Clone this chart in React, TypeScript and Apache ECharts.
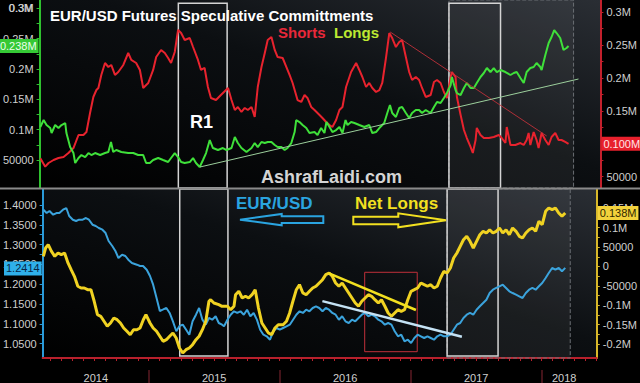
import React, { useEffect, useRef } from 'react';
import * as echarts from 'echarts';

// x = decimal year, values in thousands of contracts (COT) or EUR/USD price
const shorts: [number, number][] = [
[2014.196,78],[2014.233,65.2],[2014.258,70.8],[2014.296,75.4],[2014.333,78.4],[2014.371,80],[2014.408,86],[2014.446,93.6],[2014.484,113.4],[2014.521,113.4],[2014.544,118],[2014.571,146.9],[2014.596,171.2],[2014.619,181.8],[2014.634,184.9],[2014.656,204.7],[2014.684,222.9],[2014.709,216.8],[2014.731,219.9],[2014.759,204.7],[2014.784,209.2],[2014.822,219.9],[2014.859,238.1],[2014.882,227.5],[2014.919,222.9],[2014.947,212.3],[2014.972,184.9],[2015.010,192.5],[2015.047,212.3],[2015.070,232],[2015.107,242.7],[2015.135,238.1],[2015.160,230.5],[2015.182,222.9],[2015.210,239.6],[2015.235,273.1],[2015.258,268.5],[2015.285,257.9],[2015.323,260.9],[2015.348,247.2],[2015.385,227.5],[2015.408,212.3],[2015.435,215.3],[2015.460,186.4],[2015.483,169.7],[2015.521,166.6],[2015.558,174.2],[2015.612,184.9],[2015.638,166.6],[2015.663,151.4],[2015.686,156],[2015.713,148.4],[2015.738,154.5],[2015.761,151.4],[2015.789,156],[2015.813,140.8],[2015.836,186.4],[2015.864,216.8],[2015.889,238.1],[2015.911,257.9],[2015.939,262.4],[2015.964,242.7],[2015.986,232],[2016.024,230.5],[2016.052,216.8],[2016.076,204.7],[2016.099,192.5],[2016.136,166.6],[2016.164,163.6],[2016.189,174.2],[2016.211,169.7],[2016.239,156],[2016.264,151.4],[2016.302,143.8],[2016.324,139.3],[2016.352,133.2],[2016.377,128.6],[2016.399,125.6],[2016.427,136.2],[2016.452,151.4],[2016.475,156],[2016.502,186.4],[2016.540,209.2],[2016.578,222.9],[2016.602,212.3],[2016.625,201.6],[2016.653,186.4],[2016.677,192.5],[2016.700,184.9],[2016.728,178.8],[2016.753,181.8],[2016.775,192.5],[2016.803,230.5],[2016.828,268.5],[2016.850,260.9],[2016.878,247.2],[2016.903,254.8],[2016.925,257.9],[2016.953,232],[2016.978,209.2],[2017.000,197],[2017.028,201.6],[2017.053,197],[2017.075,184.9],[2017.103,171.2],[2017.140,174.2],[2017.165,194],[2017.188,197],[2017.215,192.5],[2017.240,178.8],[2017.263,169.7],[2017.291,201.6],[2017.300,209.2],[2017.328,201.6],[2017.338,171.2],[2017.366,143.8],[2017.391,121],[2017.413,108.8],[2017.441,95.2],[2017.458,86],[2017.479,105.8],[2017.488,124.1],[2017.516,113.4],[2017.541,108.8],[2017.579,108.8],[2017.616,110.4],[2017.654,113.4],[2017.676,108.8],[2017.704,101.2],[2017.714,125.6],[2017.742,98.2],[2017.779,98.2],[2017.817,101.2],[2017.842,98.2],[2017.864,105.8],[2017.879,116.5],[2017.892,98.2],[2017.917,118],[2017.939,105.8],[2017.954,93.6],[2017.977,116.5],[2018.005,105.8],[2018.030,98.2],[2018.052,110.4],[2018.080,116.5],[2018.105,105.8],[2018.127,105.8],[2018.155,102.8],[2018.180,100]
];

const longs: [number, number][] = [
[2014.196,104.4],[2014.221,115.9],[2014.243,107.7],[2014.271,102.7],[2014.281,94.5],[2014.308,107.7],[2014.333,102.7],[2014.356,107.7],[2014.384,111],[2014.393,94.5],[2014.421,71.4],[2014.446,61.5],[2014.459,45.1],[2014.484,53.3],[2014.506,58.2],[2014.534,54.9],[2014.559,61.5],[2014.581,58.2],[2014.609,61.5],[2014.647,58.2],[2014.684,61.5],[2014.709,63.2],[2014.729,79.7],[2014.746,63.2],[2014.769,66.5],[2014.807,63.2],[2014.859,61.5],[2014.897,61.5],[2014.934,58.2],[2014.972,58.2],[2014.994,45.1],[2015.022,45.1],[2015.047,50],[2015.085,53.3],[2015.122,50],[2015.160,46.7],[2015.182,53.3],[2015.210,61.5],[2015.235,54.9],[2015.258,46.7],[2015.285,45.1],[2015.323,46.7],[2015.348,53.3],[2015.370,45.1],[2015.398,38.5],[2015.423,50],[2015.446,61.5],[2015.474,83],[2015.498,69.8],[2015.536,66.5],[2015.573,69.8],[2015.601,66.5],[2015.638,69.8],[2015.663,87.9],[2015.686,78],[2015.713,69.8],[2015.751,63.2],[2015.789,69.8],[2015.813,78],[2015.836,71.4],[2015.864,79.7],[2015.889,78],[2015.911,79.7],[2015.939,79.7],[2015.964,74.7],[2015.986,71.4],[2016.014,71.4],[2016.039,66.5],[2016.061,69.8],[2016.089,78],[2016.114,96.1],[2016.126,115.9],[2016.151,112.6],[2016.174,107.7],[2016.202,102.7],[2016.226,94.5],[2016.264,96.1],[2016.287,91.2],[2016.314,102.7],[2016.339,94.5],[2016.354,112.6],[2016.377,104.4],[2016.399,96.1],[2016.427,99.4],[2016.452,104.4],[2016.475,94.5],[2016.498,115.9],[2016.513,107.7],[2016.540,112.6],[2016.565,111],[2016.602,107.7],[2016.640,104.4],[2016.677,107.7],[2016.700,94.5],[2016.728,96.1],[2016.753,102.7],[2016.790,111],[2016.813,127.5],[2016.833,140.6],[2016.850,127.5],[2016.878,120.9],[2016.903,135.7],[2016.925,137.3],[2016.953,127.5],[2016.978,119.2],[2017.000,127.5],[2017.028,132.4],[2017.053,132.4],[2017.075,127.5],[2017.103,132.4],[2017.140,127.5],[2017.165,137.3],[2017.188,145.6],[2017.215,143.9],[2017.240,152.2],[2017.263,160.4],[2017.291,173.6],[2017.300,186.8],[2017.328,165.4],[2017.338,160.4],[2017.366,157.1],[2017.391,168.7],[2017.413,176.9],[2017.441,168.7],[2017.466,168.7],[2017.488,176.9],[2017.516,186.8],[2017.541,193.4],[2017.564,201.6],[2017.591,195],[2017.616,201.6],[2017.639,195],[2017.667,198.3],[2017.704,195],[2017.742,190.1],[2017.767,193.4],[2017.789,195],[2017.817,185.1],[2017.842,176.9],[2017.864,195],[2017.892,201.6],[2017.917,203.3],[2017.939,209.9],[2017.967,203.3],[2017.977,198.3],[2018.005,223],[2018.030,242.8],[2018.052,252.7],[2018.072,264.2],[2018.090,259.3],[2018.117,251.1],[2018.142,231.3],[2018.165,234.6],[2018.180,238]
];

const eurusd: [number, number][] = [
[2014.196,1.3881],[2014.221,1.3798],[2014.243,1.3849],[2014.271,1.3755],[2014.296,1.3798],[2014.318,1.3798],[2014.346,1.3881],[2014.371,1.3924],[2014.393,1.3722],[2014.421,1.3629],[2014.446,1.3596],[2014.468,1.3629],[2014.496,1.3629],[2014.521,1.3672],[2014.544,1.3629],[2014.571,1.3503],[2014.596,1.347],[2014.619,1.342],[2014.647,1.3377],[2014.671,1.3293],[2014.694,1.3092],[2014.722,1.2965],[2014.746,1.2839],[2014.769,1.2663],[2014.797,1.2746],[2014.822,1.2713],[2014.844,1.262],[2014.872,1.2536],[2014.910,1.2494],[2014.934,1.2461],[2014.957,1.2461],[2014.985,1.2367],[2015.010,1.2208],[2015.034,1.1989],[2015.060,1.1653],[2015.085,1.1325],[2015.107,1.1358],[2015.135,1.1401],[2015.160,1.1275],[2015.185,1.1065],[2015.211,1.0813],[2015.235,1.0947],[2015.260,1.098],[2015.286,1.0853],[2015.310,1.0727],[2015.335,1.1065],[2015.361,1.1232],[2015.385,1.1401],[2015.410,1.1106],[2015.436,1.098],[2015.460,1.1149],[2015.485,1.1106],[2015.511,1.1192],[2015.535,1.1022],[2015.560,1.098],[2015.575,1.0939],[2015.601,1.1106],[2015.626,1.1232],[2015.651,1.1318],[2015.676,1.1275],[2015.701,1.1318],[2015.726,1.1232],[2015.751,1.1358],[2015.776,1.1192],[2015.801,1.1275],[2015.826,1.1106],[2015.851,1.0853],[2015.876,1.0727],[2015.901,1.0687],[2015.926,1.0601],[2015.951,1.0813],[2015.976,1.0896],[2016.001,1.0853],[2016.026,1.0896],[2016.052,1.0939],[2016.077,1.098],[2016.102,1.1106],[2016.127,1.1232],[2016.152,1.1318],[2016.177,1.1275],[2016.202,1.1358],[2016.227,1.1318],[2016.252,1.1401],[2016.277,1.1444],[2016.302,1.1401],[2016.327,1.1318],[2016.352,1.1401],[2016.377,1.1358],[2016.402,1.1275],[2016.427,1.1232],[2016.452,1.1106],[2016.477,1.1192],[2016.502,1.1065],[2016.527,1.1022],[2016.552,1.1106],[2016.577,1.1065],[2016.602,1.1149],[2016.627,1.1232],[2016.652,1.1275],[2016.677,1.1192],[2016.702,1.1232],[2016.727,1.1192],[2016.753,1.1106],[2016.777,1.1065],[2016.803,1.098],[2016.828,1.1022],[2016.853,1.098],[2016.878,1.0813],[2016.903,1.0687],[2016.928,1.0727],[2016.953,1.0561],[2016.978,1.0601],[2017.003,1.0518],[2017.028,1.0644],[2017.053,1.0727],[2017.078,1.0687],[2017.103,1.0644],[2017.128,1.0687],[2017.153,1.0644],[2017.178,1.0601],[2017.203,1.0687],[2017.228,1.0727],[2017.253,1.0687],[2017.278,1.0687],[2017.303,1.0727],[2017.328,1.0853],[2017.353,1.098],[2017.378,1.1022],[2017.403,1.1149],[2017.428,1.1232],[2017.453,1.1275],[2017.478,1.1232],[2017.503,1.1358],[2017.528,1.1444],[2017.553,1.1527],[2017.578,1.161],[2017.603,1.1779],[2017.628,1.1863],[2017.653,1.1906],[2017.678,1.1949],[2017.703,1.1989],[2017.728,1.1906],[2017.753,1.1822],[2017.778,1.1779],[2017.804,1.1737],[2017.829,1.1696],[2017.854,1.1653],[2017.879,1.1779],[2017.904,1.1863],[2017.929,1.1906],[2017.954,1.1863],[2017.979,1.1949],[2018.004,1.2032],[2018.030,1.2158],[2018.054,1.2284],[2018.080,1.241],[2018.105,1.2367],[2018.130,1.241],[2018.155,1.2327],[2018.180,1.2414]
];

const netLongs: [number, number][] = [
[2014.196,26.2],[2014.213,47.6],[2014.233,56.2],[2014.258,39.1],[2014.283,26.2],[2014.308,34.7],[2014.333,30.4],[2014.358,34.7],[2014.384,9],[2014.408,-8.3],[2014.433,-25.4],[2014.459,-51.1],[2014.484,-55.5],[2014.508,-55.5],[2014.534,-59.9],[2014.559,-59.9],[2014.584,-89.8],[2014.609,-124.4],[2014.634,-128.5],[2014.659,-141.4],[2014.684,-154.3],[2014.709,-145.8],[2014.734,-132.9],[2014.759,-137.3],[2014.784,-145.8],[2014.809,-158.7],[2014.834,-167.2],[2014.859,-176],[2014.884,-163.1],[2014.910,-163.1],[2014.934,-158.7],[2014.959,-137.3],[2014.979,-124.4],[2015.010,-145.8],[2015.034,-158.7],[2015.060,-167.2],[2015.085,-180.1],[2015.110,-193],[2015.135,-188.9],[2015.160,-180.1],[2015.185,-171.6],[2015.210,-184.5],[2015.235,-210.3],[2015.260,-223.2],[2015.285,-214.7],[2015.310,-210.3],[2015.335,-201.8],[2015.361,-188.9],[2015.385,-180.1],[2015.410,-163.1],[2015.436,-141.4],[2015.460,-89.8],[2015.473,-85.7],[2015.498,-94.2],[2015.535,-98.6],[2015.560,-102.7],[2015.601,-102.7],[2015.626,-111.5],[2015.651,-102.7],[2015.663,-72.8],[2015.688,-64],[2015.714,-81.3],[2015.739,-76.9],[2015.763,-81.3],[2015.789,-72.8],[2015.813,-59.9],[2015.838,-107.1],[2015.864,-145.8],[2015.889,-158.7],[2015.914,-171.6],[2015.939,-176],[2015.964,-158.7],[2015.989,-150.2],[2016.026,-150.2],[2016.052,-141.4],[2016.076,-120],[2016.101,-89.8],[2016.127,-59.9],[2016.151,-47],[2016.177,-68.4],[2016.202,-72.8],[2016.227,-64],[2016.252,-55.5],[2016.277,-51.1],[2016.302,-42.6],[2016.327,-34.1],[2016.352,-21.2],[2016.377,-16.8],[2016.402,-25.4],[2016.427,-42.6],[2016.452,-51.1],[2016.477,-42.6],[2016.502,-55.5],[2016.527,-68.4],[2016.552,-81.3],[2016.577,-94.2],[2016.602,-102.7],[2016.627,-89.8],[2016.652,-81.3],[2016.677,-72.8],[2016.702,-76.9],[2016.727,-85.7],[2016.753,-94.2],[2016.777,-85.7],[2016.803,-102.7],[2016.828,-120],[2016.853,-128.5],[2016.878,-120],[2016.903,-111.5],[2016.928,-115.6],[2016.953,-111.5],[2016.978,-85.7],[2017.003,-64],[2017.028,-59.9],[2017.053,-55.5],[2017.078,-42.6],[2017.103,-47],[2017.128,-51.1],[2017.153,-47],[2017.178,-55.5],[2017.203,-51.1],[2017.228,-29.7],[2017.253,-12.5],[2017.278,-16.8],[2017.303,-3.9],[2017.328,21.8],[2017.353,34.7],[2017.378,52],[2017.403,69],[2017.428,77.8],[2017.453,64.9],[2017.478,47.6],[2017.503,64.9],[2017.528,81.9],[2017.553,90.7],[2017.578,86.3],[2017.603,94.8],[2017.628,86.3],[2017.653,90.7],[2017.678,99.2],[2017.703,86.3],[2017.728,94.8],[2017.753,81.9],[2017.778,99.2],[2017.804,90.7],[2017.829,77.8],[2017.854,73.4],[2017.879,86.3],[2017.904,94.8],[2017.929,99.2],[2017.954,90.7],[2017.979,116.5],[2018.004,107.7],[2018.030,142.3],[2018.054,150.8],[2018.080,146.4],[2018.105,150.8],[2018.130,137.9],[2018.155,129.4],[2018.180,138]
];

const yearLabelPos = [2014.596, 2015.5, 2016.5, 2017.5, 2018.172];
const yearBreaks = [2015, 2016, 2017, 2018];
const cotTicks = [50, 100, 150, 200, 250, 300];
const netTicks = [-200, -150, -100, -50, 0, 50, 100, 150];
const fxTicks = [1.05, 1.1, 1.15, 1.2, 1.25, 1.3, 1.35, 1.4];

// annotation boxes (decimal-year ranges)
const r1Box = [2015.237, 2015.605];
const box2017 = [2017.278, 2017.667];
const shadeRange = [2017.278, 2018.218];
const redBox = { x: [2016.649, 2017.05], y: [1.2302, 1.0298] };
const longsTrend = [[2015.4, 38.5], [2018.255, 183.5]];
const shortsTrend = [[2016.835, 270.0], [2018.015, 111.9]];
const netTrend = [[2016.377, -17.6], [2017.04, -112.3]];
const fxTrend = [[2016.326, 1.1575], [2017.391, 1.0677]];

const X_MIN = 2014.1905;
const X_MAX = 2018.4204;
const LONGS_MIN = 3.9;
const LONGS_MAX = 313.7;
const TOP_H = 188;
const FONT = 'Liberation Sans, Arial, sans-serif';
const LABEL_COLOR = '#cfcfcf';

const fmtK = (v: number) =>
  Math.abs(v) >= 100 ? `${+(v / 1000).toFixed(3)}M` : `${Math.round(v * 1000)}`;
const last = (a: [number, number][]) => a[a.length - 1][1];

export default function App() {
  const ref = useRef<HTMLDivElement>(null);
  useEffect(() => {
    document.body.style.margin = '0';
    document.body.style.background = '#000';
    const chart = echarts.init(ref.current!, undefined, { renderer: 'svg', width: 640, height: 383 });

    const months: number[] = [];
    for (let m = 3; m <= 4 * 12 + 5; m++) months.push(2014 + m / 12);

    const bg = {
      type: 'linear', x: 0, y: 1, x2: 1, y2: 0,
      colorStops: [
        { offset: 0, color: '#000000' },
        { offset: 0.55, color: '#0c0f12' },
        { offset: 1, color: '#2a2e34' },
      ],
    };
    const axisLabel = (vals: number[], fmt: (v: number) => string, margin: number) => ({
      customValues: vals, formatter: fmt, color: LABEL_COLOR, fontSize: 11, fontFamily: FONT, margin,
      showMaxLabel: true, showMinLabel: true,
    });
    const minorTicks = (vals: number[]) => {
      const out: number[] = [];
      for (let i = 0; i < vals.length; i++) {
        out.push(vals[i]);
        if (i < vals.length - 1) out.push((vals[i] + vals[i + 1]) / 2);
      }
      return out;
    };
    const tag = (value: number, text: string, pos: string, bgc: string, fg: string) => ({
      yAxis: value,
      lineStyle: { color: 'rgba(0,0,0,0)', width: 0 },
      label: {
        show: true, position: pos, formatter: text, backgroundColor: bgc, color: fg,
        fontSize: 11, fontFamily: FONT, padding: [2, 2, 1, 2], distance: 1,
      },
    });
    const trend = (pts: number[][], color: string, width: number) => [
      { coord: pts[0], lineStyle: { color, width, type: 'solid' }, label: { show: false } },
      { coord: pts[1] },
    ];
    const whiteBox = (xr: number[], y1: number, y2: number) => [
      { xAxis: xr[0], yAxis: y1, itemStyle: { color: 'rgba(0,0,0,0)', borderColor: '#d4d4d4', borderWidth: 1.5 } },
      { xAxis: xr[1], yAxis: y2 },
    ];
    const shade = [
      { xAxis: shadeRange[0], itemStyle: { color: 'rgba(255,255,255,0.06)', borderColor: '#6a6e74', borderWidth: 1, borderType: 'dashed' } },
      { xAxis: shadeRange[1] },
    ];
    const topCot = cotTicks[cotTicks.length - 1];
    const topCotY = TOP_H * (1 - (topCot - LONGS_MIN) / (LONGS_MAX - LONGS_MIN));

    const option: any = {
      animation: false,
      backgroundColor: '#000',
      grid: [
        { left: 39, right: 38, top: 0, height: TOP_H, show: true, backgroundColor: bg, borderWidth: 0 },
        { left: 39, right: 38, top: 189, height: 169, show: true, backgroundColor: bg, borderWidth: 0 },
      ],
      xAxis: [
        { type: 'value', gridIndex: 0, min: X_MIN, max: X_MAX, show: false, splitLine: { show: false } },
        {
          type: 'value', gridIndex: 1, min: X_MIN, max: X_MAX, position: 'bottom', splitLine: { show: false },
          axisLine: { show: true, onZero: false, lineStyle: { color: '#b8202c', width: 2 } },
          axisTick: { show: true, customValues: months, length: 3, lineStyle: { color: '#b8202c' } },
          axisLabel: { customValues: yearLabelPos, formatter: (v: number) => `${Math.floor(v)}`, color: LABEL_COLOR, fontSize: 11, fontFamily: FONT, margin: 14 },
        },
        {
          type: 'value', gridIndex: 1, min: X_MIN, max: X_MAX, position: 'bottom', offset: 12, splitLine: { show: false },
          axisLine: { show: false, onZero: false },
          axisTick: { show: true, customValues: yearBreaks, length: 14, lineStyle: { color: '#5a1a22', width: 1.5 } },
          axisLabel: { show: false },
        },
      ],
      yAxis: [
        {
          type: 'value', gridIndex: 0, position: 'left', min: LONGS_MIN, max: LONGS_MAX, splitLine: { show: false },
          axisLine: { show: true, lineStyle: { color: '#2fc12f', width: 2 } },
          axisTick: { show: true, customValues: minorTicks(cotTicks), length: 3, lineStyle: { color: '#2fc12f' } },
          axisLabel: axisLabel(cotTicks, fmtK, 6),
        },
        {
          type: 'value', gridIndex: 0, position: 'right', min: 32.8, max: 318.7, splitLine: { show: false },
          axisLine: { show: true, lineStyle: { color: '#c3202c', width: 2 } },
          axisTick: { show: true, customValues: minorTicks(cotTicks), length: 3, lineStyle: { color: '#c3202c' } },
          axisLabel: axisLabel(cotTicks, fmtK, 6),
        },
        {
          type: 'value', gridIndex: 1, position: 'left', min: 1.0139, max: 1.4404, splitLine: { show: false },
          axisLine: { show: true, lineStyle: { color: '#2a9ad8', width: 2 } },
          axisTick: { show: true, customValues: minorTicks(fxTicks), length: 3, lineStyle: { color: '#2a9ad8' } },
          axisLabel: axisLabel(fxTicks, (v: number) => v.toFixed(4), 6),
        },
        {
          type: 'value', gridIndex: 1, position: 'right', min: -236.1, max: 199.8, splitLine: { show: false },
          axisLine: { show: true, lineStyle: { color: '#d8b82a', width: 2 } },
          axisTick: { show: true, customValues: minorTicks(netTicks), length: 3, lineStyle: { color: '#d8b82a' } },
          axisLabel: axisLabel(netTicks, fmtK, 6),
        },
      ],
      series: [
        {
          type: 'line', name: 'Shorts', xAxisIndex: 0, yAxisIndex: 1, data: shorts, showSymbol: false, z: 3,
          lineStyle: { color: '#e8232e', width: 2 },
          markArea: { silent: true, data: [shade] },
          markLine: {
            silent: true, symbol: ['none', 'none'], z: 10,
            data: [trend(shortsTrend, 'rgba(200,50,60,0.85)', 1), tag(last(shorts), `${(last(shorts) / 1000).toFixed(3)}M`, 'end', '#e8202c', '#ffe6e6')],
          },
        },
        {
          type: 'line', name: 'Longs', xAxisIndex: 0, yAxisIndex: 0, data: longs, showSymbol: false, z: 4,
          lineStyle: { color: '#3fe03a', width: 2 },
          markArea: { silent: true, data: [whiteBox(r1Box, 308.2, 3.9), whiteBox(box2017, 308.2, 3.9)] },
          markLine: {
            silent: true, symbol: ['none', 'none'], z: 10,
            data: [trend(longsTrend, '#9ccf9c', 1), tag(last(longs), `${(last(longs) / 1000).toFixed(3)}M`, 'start', '#35c935', '#eaffea')],
          },
        },
        {
          type: 'line', name: 'Net Longs', xAxisIndex: 1, yAxisIndex: 3, data: netLongs, showSymbol: false, z: 4,
          lineStyle: { color: '#f0d222', width: 3 },
          markArea: { silent: true, data: [shade] },
          markLine: {
            silent: true, symbol: ['none', 'none'], z: 10,
            data: [trend(netTrend, '#f2e020', 2.5), tag(last(netLongs), `${(last(netLongs) / 1000).toFixed(3)}M`, 'end', '#f2d23c', '#302800')],
          },
        },
        {
          type: 'line', name: 'EUR/USD', xAxisIndex: 1, yAxisIndex: 2, data: eurusd, showSymbol: false, z: 3,
          lineStyle: { color: '#3ba3dc', width: 2 },
          markArea: {
            silent: true,
            data: [
              whiteBox(r1Box, 1.4404, 1.019),
              whiteBox(box2017, 1.4404, 1.019),
              [
                { xAxis: redBox.x[0], yAxis: redBox.y[0], itemStyle: { color: 'rgba(0,0,0,0)', borderColor: '#c0303a', borderWidth: 1 } },
                { xAxis: redBox.x[1], yAxis: redBox.y[1] },
              ],
            ],
          },
          markLine: {
            silent: true, symbol: ['none', 'none'], z: 10,
            data: [trend(fxTrend, '#c4e2f4', 2.5), tag(last(eurusd), last(eurusd).toFixed(4), 'start', '#2fb0ea', '#082848')],
          },
        },
      ],
      graphic: [
        { type: 'line', z: 100, shape: { x1: 0, y1: 188.5, x2: 640, y2: 188.5 }, style: { stroke: '#8a8a8a', lineWidth: 2 } },
        { type: 'text', z: 1000, x: 33, y: topCotY, style: { text: fmtK(topCot), fill: LABEL_COLOR, font: `11px ${FONT}`, textAlign: 'right', textVerticalAlign: 'middle' } },
        { type: 'text', z: 100, x: 50, y: 15, style: { text: 'EUR/USD Futures Speculative Committments', fill: '#ffffff', font: `bold 15px ${FONT}`, textVerticalAlign: 'middle' } },
        { type: 'text', z: 100, x: 278, y: 32, style: { text: 'Shorts', fill: '#e8283a', font: `bold 15px ${FONT}`, textVerticalAlign: 'middle' } },
        { type: 'text', z: 100, x: 334, y: 32, style: { text: 'Longs', fill: '#bce832', font: `bold 15px ${FONT}`, textVerticalAlign: 'middle' } },
        { type: 'text', z: 100, x: 190, y: 122, style: { text: 'R1', fill: '#ffffff', font: `bold 18px ${FONT}`, textVerticalAlign: 'middle' } },
        { type: 'text', z: 100, x: 261, y: 177, style: { text: 'AshrafLaidi.com', fill: '#d4d4d4', font: `bold 18px ${FONT}`, textVerticalAlign: 'middle' } },
        { type: 'text', z: 100, x: 236, y: 203, style: { text: 'EUR/USD', fill: '#2aa4e0', font: `bold 17px ${FONT}`, textVerticalAlign: 'middle' } },
        { type: 'text', z: 100, x: 355, y: 203, style: { text: 'Net Longs', fill: '#f2e020', font: `bold 17px ${FONT}`, textVerticalAlign: 'middle' } },
        {
          type: 'polygon', z: 100,
          shape: { points: [[240, 219.7], [281.7, 214], [281.7, 216.3], [323.3, 216.3], [323.3, 223], [281.7, 223], [281.7, 225.3]] },
          style: { fill: 'none', stroke: '#2aa4e0', lineWidth: 2 },
        },
        {
          type: 'polygon', z: 100,
          shape: { points: [[353.3, 216.7], [398.3, 216.7], [398.3, 213.3], [446, 220.3], [398.3, 227.3], [398.3, 224.3], [353.3, 224.3]] },
          style: { fill: 'none', stroke: '#f2e020', lineWidth: 2 },
        },
      ],
    };
    chart.setOption(option);
    return () => chart.dispose();
  }, []);
  return <div ref={ref} style={{ width: 640, height: 383 }} />;
}
